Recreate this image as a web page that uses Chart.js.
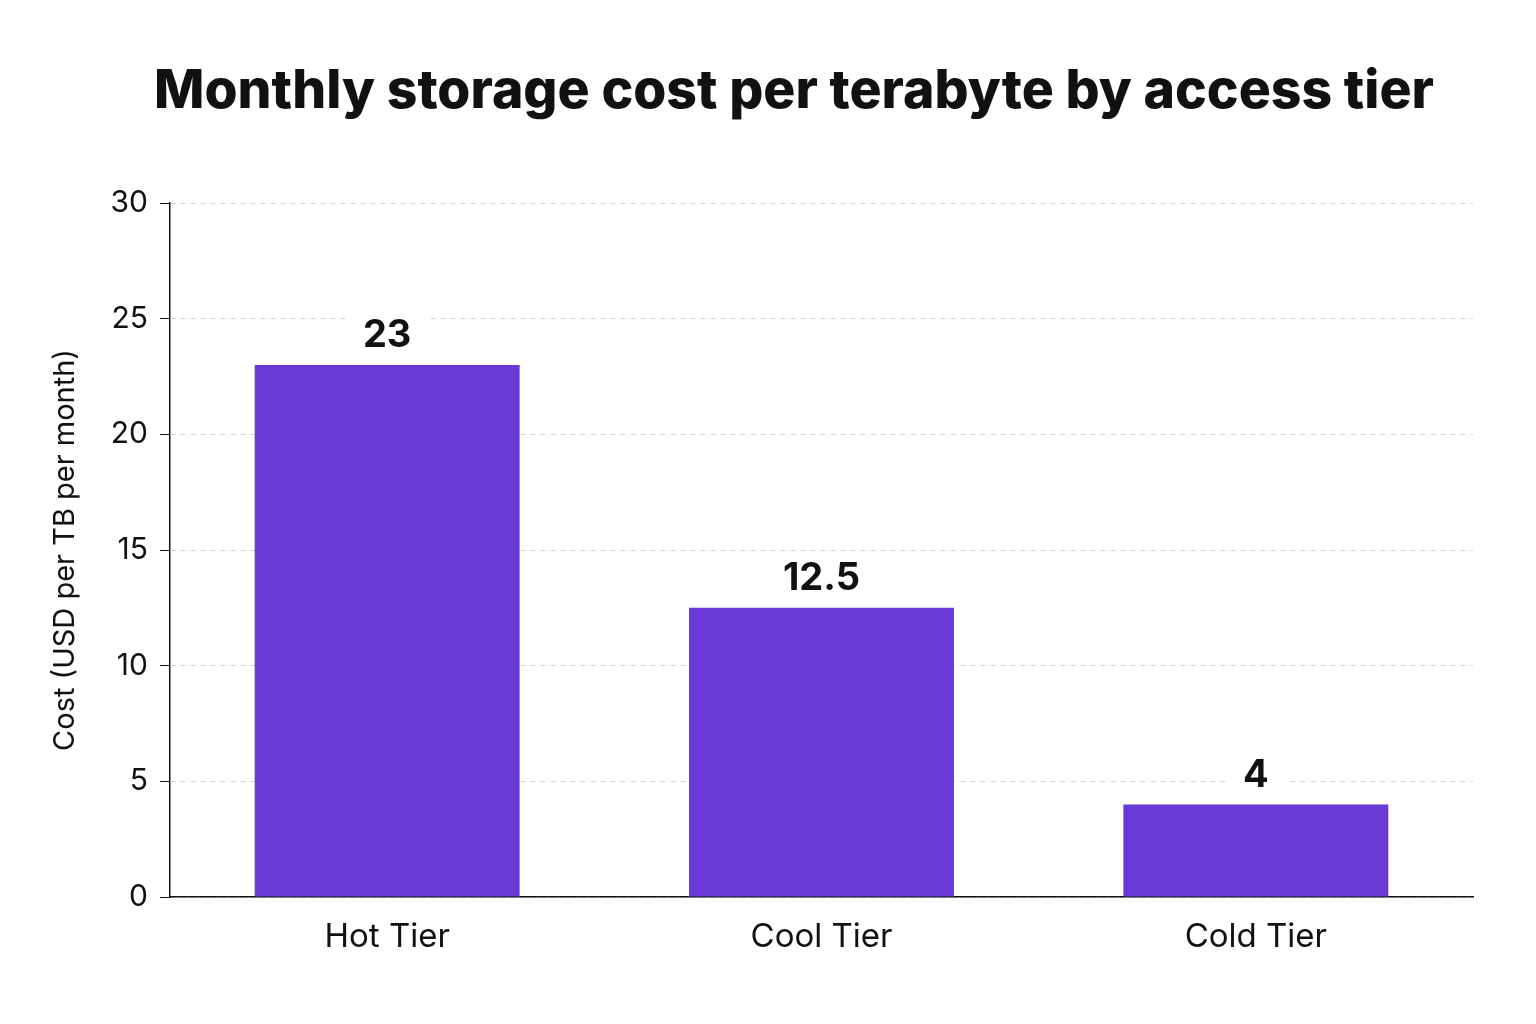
<!DOCTYPE html>
<html lang="en">
<head>
    <meta charset="UTF-8">
    <title>Monthly storage cost per terabyte by access tier</title>
    <script src="https://cdn.jsdelivr.net/npm/chart.js@4.4.1/dist/chart.umd.min.js"></script>
    <style>
        html, body { margin: 0; padding: 0; background: #fff; }
        .wrap { width: 1536px; height: 1024px; }
    </style>
</head>
<body>
    <div class="wrap"><canvas id="costChart" width="1536" height="1024"></canvas></div>
    <script>
        var chartTitle = 'Monthly storage cost per terabyte by access tier';
        var tiers = ['Hot Tier', 'Cool Tier', 'Cold Tier'];
        var costs = [23, 12.5, 4];
        var yTicks = [0, 5, 10, 15, 20, 25, 30];

        var barColor = '#6a3ad9';
        var inkColor = '#111111';
        var fontFamily = 'Inter, "Noto Sans", sans-serif';

        // page title, centred on the page rather than on the chart box
        var titlePlugin = {
            id: 'pageTitle',
            afterDraw: function(chart) {
                var ctx = chart.ctx;
                ctx.save();
                ctx.font = '800 53.5px ' + fontFamily;
                ctx.fillStyle = inkColor;
                ctx.textAlign = 'center';
                ctx.textBaseline = 'middle';
                ctx.fillText(chartTitle, 794, 92);
                ctx.restore();
            }
        };

        // value labels above each bar, with a white box behind so the grid breaks
        var valueLabels = {
            id: 'valueLabels',
            afterDatasetsDraw: function(chart) {
                var ctx = chart.ctx;
                var meta = chart.getDatasetMeta(0);
                ctx.save();
                ctx.font = 'bold 38px ' + fontFamily;
                ctx.textAlign = 'center';
                ctx.textBaseline = 'bottom';
                meta.data.forEach(function(bar, i) {
                    var text = String(costs[i]);
                    var w = ctx.measureText(text).width;
                    var y = bar.y - 10;
                    ctx.fillStyle = '#fff';
                    ctx.fillRect(bar.x - w / 2 - 16, y - 38, w + 32, 36);
                    ctx.fillStyle = inkColor;
                    ctx.fillText(text, bar.x, y);
                });
                ctx.restore();
            }
        };

        new Chart(document.getElementById('costChart').getContext('2d'), {
            type: 'bar',
            data: {
                labels: tiers,
                datasets: [{
                    data: costs,
                    backgroundColor: barColor,
                    borderWidth: 0,
                    barPercentage: 0.61,
                    categoryPercentage: 1.0
                }]
            },
            options: {
                responsive: false,
                animation: false,
                devicePixelRatio: 1,
                layout: { padding: { top: 203, right: 63, bottom: 0, left: 48 } },
                plugins: {
                    legend: { display: false },
                    tooltip: { enabled: false },
                    title: { display: false }
                },
                scales: {
                    x: {
                        grid: { display: false, drawTicks: false },
                        border: { display: true, color: inkColor, width: 1.5 },
                        ticks: {
                            color: inkColor,
                            padding: 20,
                            font: { family: fontFamily, size: 33 }
                        },
                        afterFit: function(scale) { scale.height = 127; }
                    },
                    y: {
                        min: 0,
                        max: 30,
                        afterBuildTicks: function(scale) {
                            scale.ticks = yTicks.map(function(v) { return { value: v }; });
                        },
                        grid: {
                            color: '#d4d4d4',
                            lineWidth: 1,
                            tickColor: inkColor,
                            tickLength: 10,
                            tickBorderDash: [],
                            drawTicks: true
                        },
                        border: { display: true, color: inkColor, width: 1.5, dash: [5, 5] },
                        ticks: {
                            color: inkColor,
                            padding: 12,
                            font: { family: fontFamily, size: 30 }
                        },
                        title: {
                            display: true,
                            text: 'Cost (USD per TB per month)',
                            color: inkColor,
                            font: { family: fontFamily, size: 29 },
                            padding: { top: 0, bottom: 8 }
                        },
                        afterFit: function(scale) { scale.width = 122; }
                    }
                }
            },
            plugins: [valueLabels, titlePlugin]
        });
    </script>
</body>
</html>
